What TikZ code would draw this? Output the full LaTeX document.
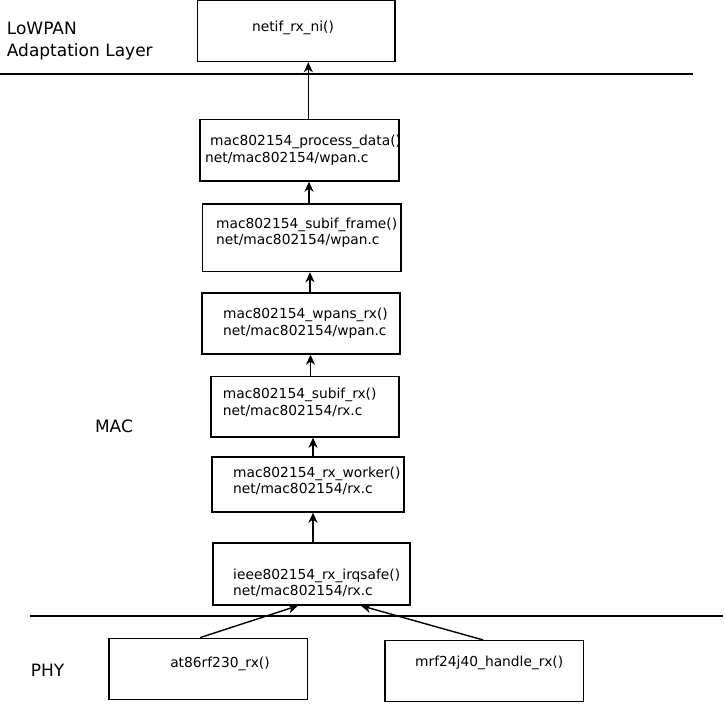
\documentclass[tikz,border=0pt]{standalone}
\usepackage{fontspec}
\setmainfont{DejaVu Sans}
\usetikzlibrary{arrows.meta}
\begin{document}
\begin{tikzpicture}[x=1pt,y=-1pt,
  box/.style={draw,line width=1.4pt,inner sep=0pt,rectangle},
  code/.style={font=\fontsize{13.8}{16.5}\selectfont,align=left,inner sep=0pt},
  layer/.style={font=\fontsize{17}{21.7}\selectfont,align=left,inner sep=0pt},
  arr/.style={line width=1.4pt,-{Stealth[length=10pt,width=9pt,inset=3pt]}},
  sep/.style={line width=1.4pt}]
\useasboundingbox (0,0) rectangle (725,704);

% layer separators
\coordinate (s1a) at (0,74);
\coordinate (s1b) at (693,74);
\coordinate (s2a) at (30,616);
\coordinate (s2b) at (723,616);
\draw[sep] (s1a) -- (s1b);
\draw[sep] (s2a) -- (s2b);

% layer labels
\node[layer,anchor=west] (lowpan) at (6.7,40.8) {LoWPAN\\Adaptation Layer};
\node[layer] (mac) at (114,426.7) {MAC};
\node[layer] (phy) at (47.5,670) {PHY};

% boxes
\node[box,minimum width=197.5pt,minimum height=60.8pt] (netif) at (296.25,31.1) {};
\node[box,minimum width=199pt,minimum height=61.5pt] (pd) at (299.5,150.25) {};
\node[box,minimum width=198.3pt,minimum height=67.5pt] (sf) at (301.85,237.75) {};
\node[box,minimum width=198pt,minimum height=61pt] (wr) at (301,323.5) {};
\node[box,minimum width=188pt,minimum height=60.3pt] (sr) at (305,406.85) {};
\node[box,minimum width=192pt,minimum height=55pt] (rw) at (308,484.5) {};
\node[box,minimum width=197pt,minimum height=62pt] (iq) at (311.5,574) {};
\node[box,minimum width=198.3pt,minimum height=61pt] (at) at (208.15,668.8) {};
\node[box,minimum width=198.3pt,minimum height=61pt] (mrf) at (484.15,671.2) {};

% texts
\node[code] (tnetif) at (293,28.3) {netif\_rx\_ni()};
\node[code,anchor=west] (tpd) at (205,150) {\hspace*{5pt}mac802154\_process\_data()\\net/mac802154/wpan.c};
\node[code,anchor=west] (tsf) at (216,232.5) {mac802154\_subif\_frame()\\net/mac802154/wpan.c};
\node[code,anchor=west] (twr) at (223,323.3) {mac802154\_wpans\_rx()\\net/mac802154/wpan.c};
\node[code,anchor=west] (tsr) at (222.7,402.5) {mac802154\_subif\_rx()\\net/mac802154/rx.c};
\node[code,anchor=west] (trw) at (233,481) {mac802154\_rx\_worker()\\net/mac802154/rx.c};
\node[code,anchor=west] (tiq) at (233,582.7) {ieee802154\_rx\_irqsafe()\\net/mac802154/rx.c};
\node[code] (tat) at (220,664) {at86rf230\_rx()};
\node[code,anchor=west] (tmrf) at (415,663) {mrf24j40\_handle\_rx()};

% arrow columns
\coordinate (c1) at (308.3,0);
\coordinate (c2) at (309,0);
\coordinate (c3) at (310,0);
\coordinate (c4) at (310.5,0);
\coordinate (c5) at (313,0);
\coordinate (c6) at (313,0);

\draw[arr] (pd.north -| c1) -- (netif.south -| c1);
\draw[arr] (sf.north -| c2) -- (pd.south -| c2);
\draw[arr] (wr.north -| c3) -- (sf.south -| c3);
\draw[arr] (sr.north -| c4) -- (wr.south -| c4);
\draw[arr] (rw.north -| c5) -- (sr.south -| c5);
\draw[arr] (iq.north -| c6) -- (rw.south -| c6);
\draw[arr] ([xshift=-8pt]at.north) -- ([xshift=-13.5pt]iq.south);
\draw[arr] ([xshift=-0.85pt]mrf.north) -- ([xshift=49.5pt]iq.south);
\end{tikzpicture}
\end{document}
